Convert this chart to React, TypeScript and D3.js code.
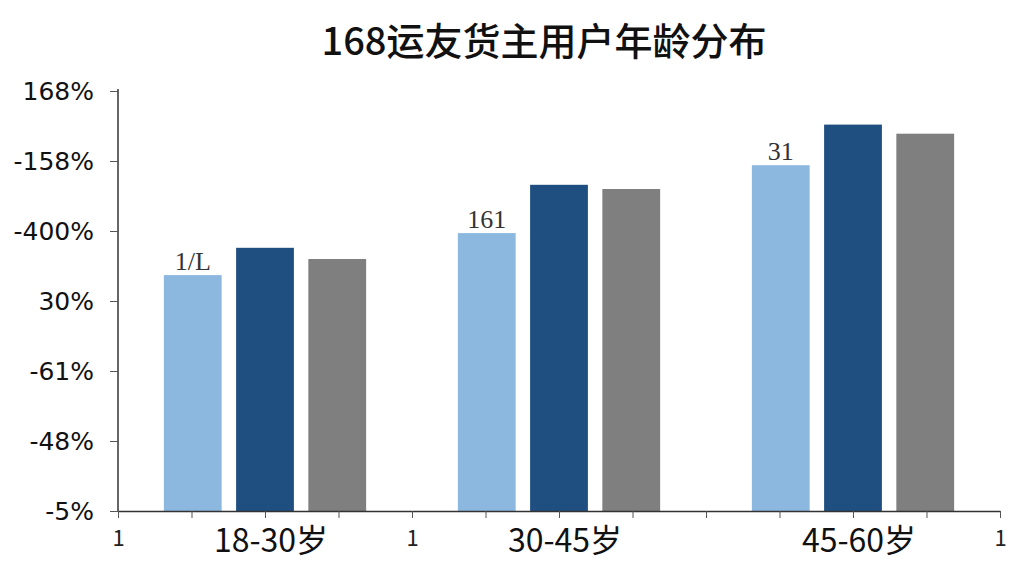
import React, { useRef, useEffect } from 'react';
import * as d3 from 'd3';

// chart data
const title = '168运友货主用户年龄分布';
const categories = ['18-30岁', '30-45岁', '45-60岁'];
const seriesNames = ['浅蓝', '深蓝', '灰色'];
const seriesColors = ['#8cb8e0', '#1f4f81', '#7f7f7f'];
const lightValues = [33.7, 39.7, 49.4];
const darkValues = [37.6, 46.6, 55.2];
const grayValues = [36.0, 46.0, 53.9];
const barLabels = ['1/L', '161', '31'];
const yTickValues = [0, 10, 20, 30, 40, 50, 60];
const yTickLabels = ['-5%', '-48%', '-61%', '30%', '-400%', '-158%', '168%'];
const xTickLabels = ['1', '', '', '', '1', '', '', '', '', '', '', '', '1'];

const App: React.FC = () => {
  const svgRef = useRef<SVGSVGElement | null>(null);

  useEffect(() => {
    const svg = d3.select(svgRef.current);
    svg.selectAll('*').remove();

    const width = 1024;
    const height = 576;
    const margin = { top: 91, right: 24, bottom: 65, left: 118 };
    const x0 = margin.left;
    const x1 = width - margin.right;
    const yBase = height - margin.bottom;

    const cjkFont = '"Noto Sans CJK SC", "Noto Sans", sans-serif';
    const numFont = '"DejaVu Sans", "Noto Sans", sans-serif';

    svg.append('rect').attr('width', width).attr('height', height).attr('fill', '#fff');

    // title
    svg.append('text')
      .attr('x', 544)
      .attr('y', 55)
      .attr('text-anchor', 'middle')
      .style('font-family', cjkFont)
      .style('font-size', '38px')
      .style('font-weight', 500)
      .attr('fill', '#111')
      .text(title);

    const yScale = d3.scaleLinear().domain([0, 60]).range([yBase, margin.top]);

    const xGroup = d3.scaleBand<string>()
      .domain(categories)
      .range([x0, x1])
      .paddingInner(0.312)
      .paddingOuter(0.156);

    const xSeries = d3.scaleBand<number>()
      .domain([0, 1, 2])
      .range([0, xGroup.bandwidth()])
      .paddingInner(0.2);

    const series = [lightValues, darkValues, grayValues];

    // bars
    series.forEach((vals, si) => {
      svg.append('g')
        .attr('class', `series-${seriesNames[si]}`)
        .selectAll('rect')
        .data(vals)
        .enter()
        .append('rect')
        .attr('x', (d, i) => (xGroup(categories[i]) || 0) + (xSeries(si) || 0))
        .attr('y', d => yScale(d))
        .attr('width', xSeries.bandwidth())
        .attr('height', d => yBase - yScale(d))
        .attr('fill', seriesColors[si]);
    });

    // labels over the light bars
    svg.append('g')
      .selectAll('text')
      .data(lightValues)
      .enter()
      .append('text')
      .attr('x', (d, i) => (xGroup(categories[i]) || 0) + (xSeries(0) || 0) + xSeries.bandwidth() / 2)
      .attr('y', d => yScale(d) - 5)
      .attr('text-anchor', 'middle')
      .style('font-family', '"Liberation Serif", "DejaVu Serif", serif')
      .style('font-size', '26px')
      .attr('fill', '#333')
      .text((d, i) => barLabels[i]);

    // y axis
    const yAxis = svg.append('g')
      .attr('transform', `translate(${x0},0)`)
      .call(
        d3.axisLeft(yScale)
          .tickValues(yTickValues)
          .tickFormat((d, i) => yTickLabels[i])
          .tickSize(8)
          .tickSizeOuter(0)
          .tickPadding(16)
      );
    yAxis.select('.domain').attr('stroke', '#333').attr('stroke-width', 1.5)
      .attr('d', `M0,${yScale(60) - 2}V${yBase}`);
    yAxis.selectAll('.tick line').attr('stroke', '#555');
    yAxis.selectAll('.tick text')
      .style('font-family', numFont)
      .style('font-size', '25px')
      .attr('fill', '#111');

    // x axis
    const xTick = d3.scaleLinear().domain([0, xTickLabels.length - 1]).range([x0, x1]);
    const xAxis = svg.append('g')
      .attr('transform', `translate(0,${yBase})`)
      .call(
        d3.axisBottom(xTick)
          .tickValues(d3.range(xTickLabels.length))
          .tickFormat((d, i) => xTickLabels[i])
          .tickSize(7)
          .tickSizeOuter(0)
          .tickPadding(12)
      );
    xAxis.select('.domain').attr('stroke', '#333').attr('stroke-width', 1.5);
    xAxis.selectAll('.tick line').attr('stroke', '#555');
    xAxis.selectAll('.tick text')
      .style('font-family', cjkFont)
      .style('font-size', '22px')
      .attr('fill', '#222');

    // category labels
    svg.append('g')
      .selectAll('text')
      .data(categories)
      .enter()
      .append('text')
      .attr('x', d => (xGroup(d) || 0) + xGroup.bandwidth() / 2 + 6)
      .attr('y', yBase + 41)
      .attr('text-anchor', 'middle')
      .style('font-family', cjkFont)
      .style('font-size', '32px')
      .attr('fill', '#111')
      .text(d => d);
  }, []);

  return (
    <div style={{ margin: -8 }}>
      <svg ref={svgRef} width={1024} height={576} style={{ display: 'block' }}></svg>
    </div>
  );
};

export default App;
